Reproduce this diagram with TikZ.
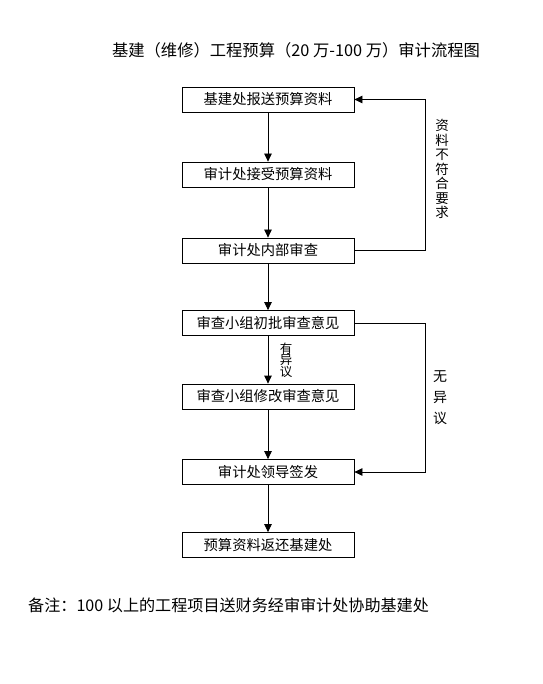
\documentclass[tikz,border=0pt]{standalone}
\usepackage{fontspec}
\setmainfont{Noto Sans CJK SC}
\usetikzlibrary{positioning,arrows.meta}

\tikzset{
  stepbox/.style={draw,line width=0.8pt,minimum width=172pt,minimum height=25pt,inner sep=0pt,font=\fontsize{14.3}{14.3}\selectfont},
  flowarrow/.style={line width=0.8pt,-{Triangle[length=8pt,width=7.5pt]}},
  sidenote/.style={align=center,inner sep=0pt,font=\fontsize{13.5}{14.5}\selectfont}
}

\begin{document}
\begin{tikzpicture}[x=1pt,y=-1pt]
\useasboundingbox (0,0) rectangle (542,684);
% title and note
\node[font=\fontsize{16.3}{16.3}\selectfont] (title) at (296,50) {基建（维修）工程预算（20 万-100 万）审计流程图};
\node[font=\fontsize{16.1}{16.1}\selectfont,anchor=west,inner sep=0pt] (remark) at (28,605) {备注：100 以上的工程项目送财务经审审计处协助基建处};
% boxes
\node[stepbox] (send) at (268,99.5) {基建处报送预算资料};
\node[stepbox] (receive) at (268,174.5) {审计处接受预算资料};
\node[stepbox] (inner) at (268,250.5) {审计处内部审查};
\node[stepbox] (first) at (268,323) {审查小组初批审查意见};
\node[stepbox] (revise) at (268,396.5) {审查小组修改审查意见};
\node[stepbox] (sign) at (268,472) {审计处领导签发};
\node[stepbox] (back) at (268,545) {预算资料返还基建处};
% arrows down
\draw[flowarrow] (send) -- (receive);
\draw[flowarrow] (receive) -- (inner);
\draw[flowarrow] (inner) -- (first);
\draw[flowarrow] (first) -- (revise);
\draw[flowarrow] (revise) -- (sign);
\draw[flowarrow] (sign) -- (back);
% return loops
\draw[flowarrow] (inner.east) -- ++(71,0) |- (send.east);
\draw[flowarrow] (first.east) -- ++(71,0) |- (sign.east);
% labels
\node[sidenote] (refuse) at (442,169) {资\\料\\不\\符\\合\\要\\求};
\node[sidenote,font=\fontsize{14}{21}\selectfont] (agree) at (440,398) {无\\异\\议};
\node[sidenote,font=\fontsize{12.5}{11.5}\selectfont] (object) at (286,360) {有\\异\\议};
\end{tikzpicture}
\end{document}
